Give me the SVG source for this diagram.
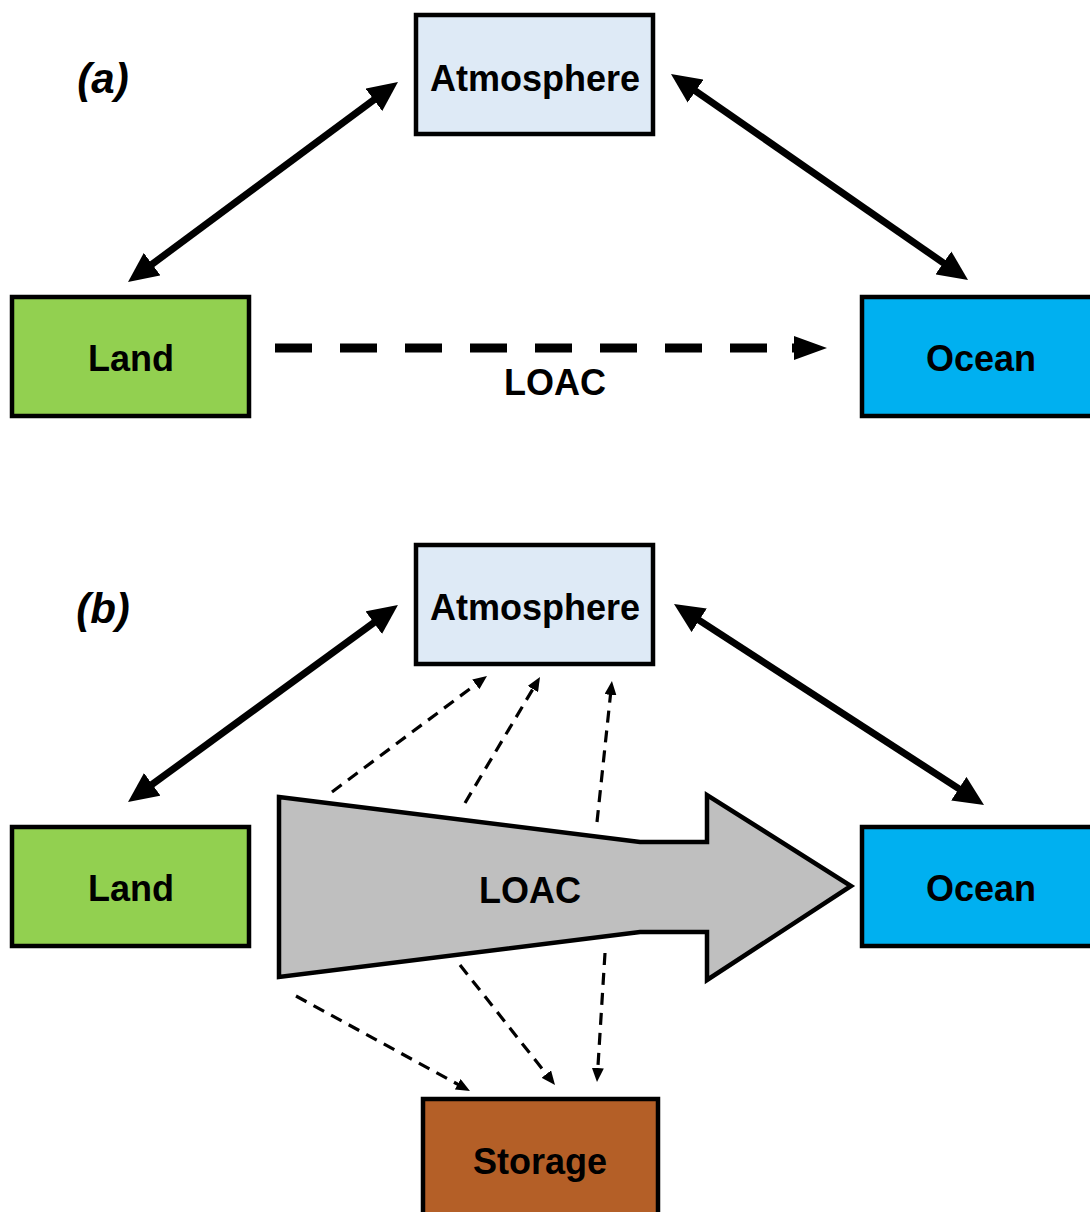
<svg xmlns="http://www.w3.org/2000/svg" width="1090" height="1212" viewBox="0 0 1090 1212">
<defs>
<style>
.box{stroke:#000;stroke-width:4.5}
.lbl{font-family:"Liberation Sans",Arial,sans-serif;font-weight:bold;font-size:36px;text-anchor:middle;fill:#000}
.tag{font-family:"Liberation Sans",Arial,sans-serif;font-weight:bold;font-style:italic;font-size:42px;text-anchor:middle;fill:#000}
.thick{stroke:#000;stroke-width:7;fill:none;marker-start:url(#bigHead);marker-end:url(#bigHead)}
.thin{stroke:#000;stroke-width:3.2;fill:none;stroke-dasharray:12 8;marker-end:url(#smallHead)}
</style>
<marker id="bigHead" viewBox="0 0 30 28" markerWidth="30" markerHeight="28" refX="10" refY="14" markerUnits="userSpaceOnUse" orient="auto-start-reverse">
<path d="M0,0 L30,14 L0,28 z" fill="#000"/>
</marker>
<marker id="smallHead" viewBox="0 0 14 12" markerWidth="14" markerHeight="12" refX="4" refY="6" markerUnits="userSpaceOnUse" orient="auto">
<path d="M0,0 L14,6 L0,12 z" fill="#000"/>
</marker>
<marker id="midHead" viewBox="0 0 33 24" markerWidth="33" markerHeight="24" refX="3" refY="12" markerUnits="userSpaceOnUse" orient="auto">
<path d="M0,0 L33,12 L0,24 z" fill="#000"/>
</marker>
</defs>

<text class="tag" x="103" y="93">(a)</text>
<text class="tag" x="103" y="623">(b)</text>

<g id="connectors">
<line class="thick" x1="144.1" y1="270.1" x2="381.9" y2="93.9"/>
<line class="thick" x1="687.4" y1="85.4" x2="951.6" y2="268.6"/>
<line x1="275" y1="348" x2="767" y2="348" stroke="#000" stroke-width="9" stroke-dasharray="37 28"/>
<line x1="792" y1="348" x2="797" y2="348" stroke="#000" stroke-width="9" marker-end="url(#midHead)"/>
<text class="lbl" x="555" y="395">LOAC</text>

<line class="thick" x1="144.2" y1="790.2" x2="381.8" y2="616.8"/>
<line class="thick" x1="690.8" y1="614.9" x2="967.2" y2="794.1"/>

<line class="thin" x1="332" y1="792" x2="479" y2="682"/>
<line class="thin" x1="465" y1="803" x2="534.9" y2="685.6"/>
<line class="thin" x1="597" y1="822" x2="610.9" y2="690.9"/>
<line class="thin" x1="296" y1="996" x2="461.2" y2="1086.2"/>
<line class="thin" x1="460" y1="965" x2="548.8" y2="1077.2"/>
<line class="thin" x1="605" y1="953" x2="597.6" y2="1072"/>
</g>

<g id="loac-arrow">
<polygon points="279,797 640,842 707,842 707,795 851,886 707,980 707,932 640,932 279,977" fill="#BFBFBF" stroke="#000" stroke-width="4.5" stroke-linejoin="miter"/>
<text class="lbl" x="530" y="903">LOAC</text>
</g>

<g id="atmosphere-a">
<rect class="box" x="416" y="15" width="237" height="119" fill="#DEEAF6"/>
<text class="lbl" x="535" y="91">Atmosphere</text>
</g>
<g id="land-a">
<rect class="box" x="12" y="297" width="237" height="119" fill="#92D050"/>
<text class="lbl" x="131" y="371">Land</text>
</g>
<g id="ocean-a">
<rect class="box" x="862" y="297" width="240" height="119" fill="#00B0F0"/>
<text class="lbl" x="981" y="371">Ocean</text>
</g>

<g id="atmosphere-b">
<rect class="box" x="416" y="545" width="237" height="119" fill="#DEEAF6"/>
<text class="lbl" x="535" y="620">Atmosphere</text>
</g>
<g id="land-b">
<rect class="box" x="12" y="827" width="237" height="119" fill="#92D050"/>
<text class="lbl" x="131" y="901">Land</text>
</g>
<g id="ocean-b">
<rect class="box" x="862" y="827" width="240" height="119" fill="#00B0F0"/>
<text class="lbl" x="981" y="901">Ocean</text>
</g>
<g id="storage">
<rect class="box" x="423" y="1099" width="235" height="130" fill="#B45F27"/>
<text class="lbl" x="540" y="1174">Storage</text>
</g>
</svg>
